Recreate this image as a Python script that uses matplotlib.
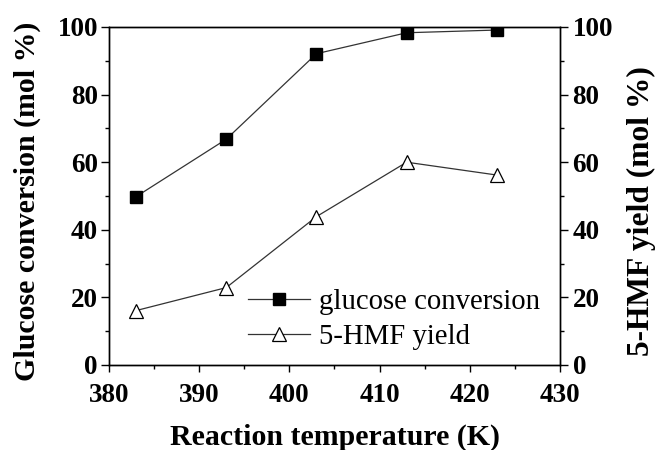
import matplotlib
matplotlib.use("Agg")
import matplotlib.pyplot as plt
from matplotlib.ticker import MultipleLocator

temps = [383, 393, 403, 413, 423]
glucose_conv = [49.8, 66.8, 92.1, 98.3, 99.1]
hmf_yield = [16.1, 22.9, 43.9, 60.0, 56.2]

plt.rcParams['font.family'] = ['Liberation Serif', 'DejaVu Serif']

fig = plt.figure(figsize=(6.56, 4.5), dpi=100)
L, R, T, B = 109, 560, 27, 365
ax = fig.add_axes([L/656, 1-B/450, (R-L)/656, (B-T)/450])
ax2 = ax.twinx()

l1, = ax.plot(temps, glucose_conv, color='#333333', lw=0.9, marker='s', ms=8,
              mfc='black', mec='black', label='glucose conversion')
l2, = ax2.plot(temps, hmf_yield, color='#333333', lw=0.9, marker='^', ms=10.5,
               mfc='white', mec='black', mew=0.9, label='5-HMF yield')

ax.set_xlim(380, 430)
ax.set_ylim(0, 100)
ax2.set_ylim(0, 100)
ax.xaxis.set_major_locator(MultipleLocator(10))
ax.xaxis.set_minor_locator(MultipleLocator(5))
for a in (ax, ax2):
    a.yaxis.set_major_locator(MultipleLocator(20))
    a.yaxis.set_minor_locator(MultipleLocator(10))
    for s in a.spines.values():
        s.set_linewidth(1.0)

ax.tick_params(axis='x', which='major', direction='out', length=5, width=1,
               labelsize=19.5, pad=8)
ax.tick_params(axis='y', which='major', direction='out', length=6, width=1,
               labelsize=19.5, pad=2)
ax.tick_params(axis='both', which='minor', direction='out', length=3, width=1)
ax.tick_params(axis='x', top=False, which='both')
ax2.tick_params(axis='y', which='major', direction='out', length=6, width=1,
                labelsize=19.5, pad=3)
ax2.tick_params(axis='y', which='minor', direction='out', length=3, width=1)

for lab in ax.get_xticklabels() + ax.get_yticklabels() + ax2.get_yticklabels():
    lab.set_fontweight('bold')

ax.set_xlabel('Reaction temperature (K)', fontsize=21.5, fontweight='bold', labelpad=11)
ax.set_ylabel('Glucose conversion (mol %)', fontsize=21.5, fontweight='bold', labelpad=11.5)
ax2.set_ylabel('5-HMF yield (mol %)', fontsize=22.7, fontweight='bold', labelpad=10)
ax.yaxis.label.set_y(0.485)
ax2.yaxis.label.set_y(0.454)

leg = ax.legend(handles=[l1, l2], loc='center left',
                bbox_to_anchor=((248-L)/(R-L), (B-319.5)/(B-T)),
                frameon=False, fontsize=20.7, handlelength=2.16, handletextpad=0.31,
                labelspacing=0.3, borderpad=0, borderaxespad=0)

fig.savefig('out.png', dpi=100)
